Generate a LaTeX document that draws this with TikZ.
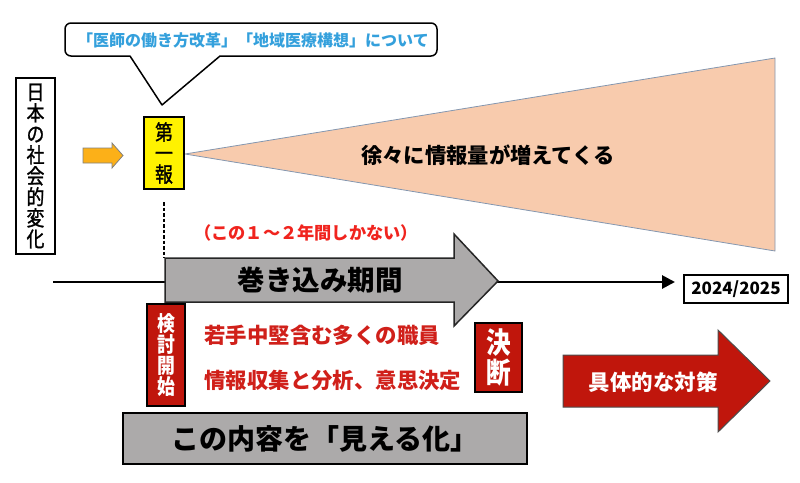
\documentclass[tikz,border=0pt]{standalone}
\usepackage{fontspec}
\setmainfont{Noto Sans CJK JP}
\newfontfamily\jpcond[FakeStretch=0.85]{Noto Sans CJK JP}
\newfontfamily\jpcondmed[FakeStretch=0.85,FakeBold=1.2]{Noto Sans CJK JP}
\usetikzlibrary{arrows.meta}
\definecolor{cblue}{RGB}{52,160,220}
\definecolor{salmon}{RGB}{248,203,173}
\definecolor{edgeblue}{RGB}{132,151,176}
\definecolor{darkred}{RGB}{192,22,12}
\definecolor{textred}{RGB}{208,32,26}
\definecolor{brightred}{RGB}{240,36,30}
\definecolor{midgray}{RGB}{172,170,170}
\definecolor{orange1}{RGB}{252,176,24}
\begin{document}
\begin{tikzpicture}[x=1pt,y=-1pt,
  boxed/.style={draw=black, line width=1.5pt, inner sep=0pt, align=center},
  fs/.style={font=\fontsize{#1}{#1}\selectfont\bfseries},
  vtext/.style 2 args={font=\jpcondmed\fontsize{#1}{#2}\selectfont, align=center, inner sep=0pt},
  vbold/.style 2 args={font=\jpcond\fontsize{#1}{#2}\selectfont\bfseries, align=center, inner sep=0pt}]
\useasboundingbox (0,0) rectangle (800,482);
% callout
\draw[line width=1.5pt, line join=round] (162,105) -- (220,56) [rounded corners=6] -- (437,56) -- (437,23) -- (65,23) -- (65,56) [sharp corners] -- (130,56) -- cycle;
\node[fs=16, text=cblue] (callt) at (253,40) {「医師の働き方改革」「地域医療構想」について};
% left vertical box
\node[boxed, minimum width=39pt, minimum height=176pt, vtext={21}{21}] (shakai) at (35.5,166) {日\\本\\の\\社\\会\\的\\変\\化};
% orange arrow
\draw[fill=orange1, draw=gray, line width=0.8pt] (83,148) -- (112,148) -- (112,143) -- (123,155.5) -- (112,168) -- (112,163) -- (83,163) -- cycle;
% funnel
\draw[fill=salmon, draw=edgeblue, line width=0.8pt] (185,154) -- (775,58) -- (775,251) -- cycle;
\node[fs=21.3] (zojo) at (488,155) {徐々に情報量が増えてくる};
% first report
\node[boxed, fill=yellow, minimum width=40pt, minimum height=72pt, vtext={21}{21}] (daiippo) at (164,153) {第\\一\\報};
% dashed
\coordinate (dtop) at (164,202);
\coordinate (dbot) at (164,258);
\draw[dash pattern=on 3.5pt off 2pt, line width=1.5pt] (dtop) -- (dbot);
\node[fs=17.2, text=brightred] (kono) at (306,233) {（この１～２年間しかない）};
% timeline
\coordinate (tl) at (53,282);
\node[boxed, minimum width=104pt, minimum height=28pt, fs=17] (year) at (736,289) {2024/2025};
\draw[line width=2.8pt, -{Triangle[length=13pt,width=13pt]}] (tl) -- (675,282);
% gray arrow
\draw[fill=midgray, draw=black!85, line width=1.5pt, line join=miter] (165,258) -- (454,258) -- (454,234) -- (498,281) -- (454,326) -- (454,302) -- (165,302) -- cycle;
\node[fs=27.5] (makikomi) at (320,280) {巻き込み期間};
% kento box
\node[boxed, fill=darkred, text=white, minimum width=38pt, minimum height=102pt, vbold={21}{21}] (kento) at (166,355) {検\\討\\開\\始};
\node[fs=21.4, text=textred, anchor=west] (wakate) at (201,335) {若手中堅含む多くの職員};
\node[fs=21.4, text=textred, anchor=west] (joho) at (201,380) {情報収集と分析、意思決定};
\node[boxed, fill=darkred, text=white, minimum width=47pt, minimum height=69pt, vbold={29}{30}] (ketsudan) at (498.5,357.5) {決\\断};
% red arrow
\draw[fill=darkred, draw=black!70, line width=1pt] (563,355) -- (718,355) -- (718,330) -- (770,381) -- (718,432) -- (718,407) -- (563,407) -- cycle;
\node[fs=21.5, text=white] (taisaku) at (653,382) {具体的な対策};
% bottom box
\node[boxed, fill=midgray, line width=2pt, minimum width=404pt, minimum height=51pt, fs=28] (mieru) at (325,438.5) {この内容を「見える化」};
\end{tikzpicture}
\end{document}
